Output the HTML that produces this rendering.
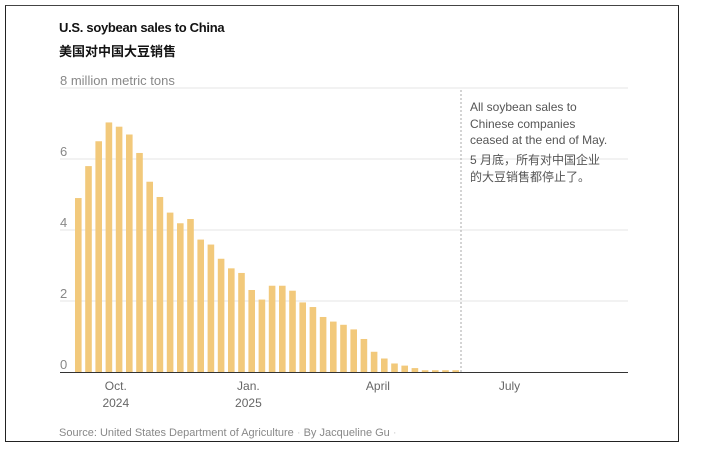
<!DOCTYPE html>
<html><head><meta charset="utf-8"><style>
body{margin:0;background:#fff;width:702px;height:459px;overflow:hidden;font-family:"Liberation Sans","Noto Sans CJK SC",sans-serif;}
#frame{position:absolute;left:5px;top:5px;width:674px;height:437px;border:1px solid #222;border-top-color:#444;box-sizing:border-box;}
.t{position:absolute;white-space:nowrap;}
</style></head><body>
<div id="frame"></div>
<div class="t" style="left:59px;top:20px;font-size:13px;font-weight:bold;color:#121212;letter-spacing:-0.3px">U.S. soybean sales to China</div>
<div class="t" style="left:59px;top:41px;font-size:13px;font-weight:bold;color:#121212">美国对中国大豆销售</div>
<svg id="chart" width="702" height="459" style="position:absolute;left:0;top:0"></svg>
<div class="t" style="left:470px;top:99px;font-size:12px;line-height:16.5px;color:#555">All soybean sales to<br>Chinese companies<br>ceased at the end of May.</div>
<div class="t" style="left:470px;top:152px;font-size:12px;line-height:17px;color:#555">5 月底，所有对中国企业<br>的大豆销售都停止了。</div>
<div class="t" style="left:59px;top:427px;font-size:11px;color:#888">Source: United States Department of Agriculture <span style="color:#ccc">·</span> By Jacqueline Gu <span style="color:#ccc">·</span></div>
<script>
const values=[4.9,5.8,6.5,7.03,6.91,6.69,6.17,5.36,4.93,4.49,4.19,4.31,3.73,3.59,3.19,2.92,2.79,2.31,2.04,2.43,2.43,2.29,1.96,1.83,1.55,1.42,1.33,1.2,0.93,0.57,0.38,0.24,0.18,0.11,0.05,0.05,0.05,0.05];
const yTicks=[0,2,4,6,8];
const xTickLabels=["Oct.|2024","Jan.|2025","April","July"];
const xTickWeeks=[4.0,17.0,29.7,42.6];
const svg=document.getElementById('chart');
const NS='http://www.w3.org/2000/svg';
const y=v=>372-v*35.5;
const x=i=>75+i*10.2;
function mk(t,a){const e=document.createElementNS(NS,t);for(const k in a)e.setAttribute(k,a[k]);svg.appendChild(e);return e;}
yTicks.forEach(v=>{
  if(v>0){const g=mk('line',{x1:60,x2:628,y1:y(v),y2:y(v),stroke:'#e6e6e6','stroke-width':1});
  
  }
  const t=mk('text',{x:60,y:y(v)-3,'font-size':13,fill:'#888','font-family':'Liberation Sans'});
  
  
  t.textContent=v===8?'8 million metric tons':v;
});
values.forEach((v,i)=>{
  const r=mk('rect',{x:x(i),y:y(v),width:6.6,height:v*35.5,fill:'#f2c97b'});
  
  
});
const d=mk('line',{x1:461,x2:461,y1:90,y2:372,stroke:'#aaa','stroke-dasharray':'2,2'});


const ax=mk('line',{x1:60,x2:628,y1:372.5,y2:372.5,stroke:'#333','stroke-width':1});


xTickLabels.forEach((l,i)=>{
  const parts=l.split('|');
  parts.forEach((p,j)=>{
    const t=mk('text',{x:x(xTickWeeks[i]),y:390+j*17,'font-size':12,fill:'#666','text-anchor':'middle','font-family':'Liberation Sans'});
    
    
    t.textContent=p;
  });
});
</script>
</body></html>
